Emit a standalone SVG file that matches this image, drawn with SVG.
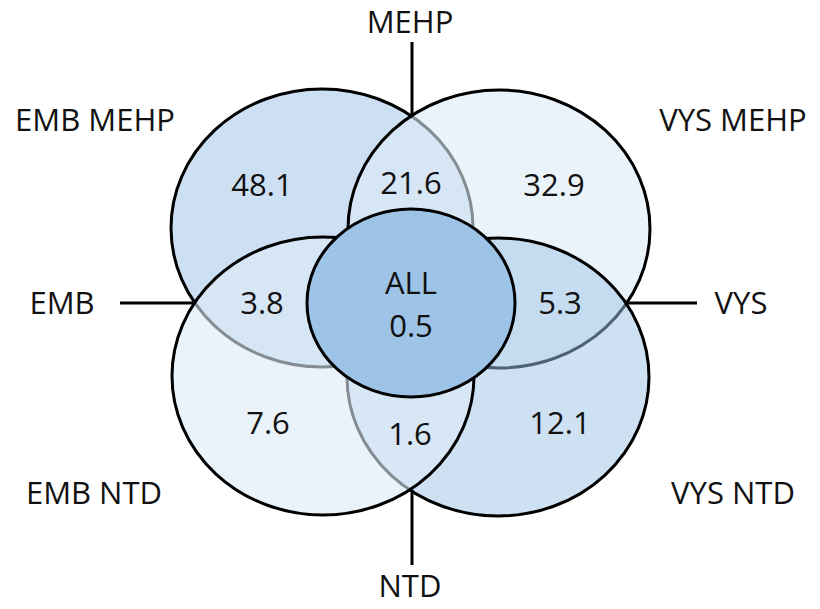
<svg xmlns="http://www.w3.org/2000/svg" width="820" height="609" viewBox="0 0 820 609">
  <style>
    .lbl { font-family: "Open Sans", "Liberation Sans", sans-serif; font-size: 31px; fill: #111; text-anchor: middle; }
    .solid { fill: #cddff2; stroke: #000; stroke-width: 3; }
    .pale { fill: #deebf7; fill-opacity: 0.6; stroke: #000; stroke-width: 3; }
    .tint { fill: #9dc3e6; fill-opacity: 0.5; stroke: #000; stroke-width: 3; }
    .core { fill: #9dc3e6; stroke: #000; stroke-width: 3; }
    .tick { stroke: #000; stroke-width: 3; fill: none; }
  </style>
  <rect width="820" height="609" fill="#fff"/>

  <!-- sets, stacked bottom to top -->
  <g id="set-emb-mehp">
    <ellipse class="solid" cx="322" cy="228" rx="151" ry="139"/>
  </g>
  <g id="set-vys-mehp">
    <ellipse class="pale" cx="499" cy="229" rx="151" ry="139"/>
  </g>
  <g id="set-vys-ntd">
    <ellipse class="tint" cx="498" cy="377" rx="151" ry="139"/>
  </g>
  <g id="set-emb-ntd">
    <ellipse class="pale" cx="323" cy="376" rx="151" ry="139"/>
  </g>

  <!-- shared core -->
  <g id="set-all">
    <ellipse class="core" cx="411" cy="303" rx="104" ry="94"/>
    <text class="lbl" x="411" y="294">ALL</text>
    <text class="lbl" x="411" y="337">0.5</text>
  </g>

  <!-- axis ticks -->
  <g id="connectors">
    <line class="tick" x1="412" y1="42" x2="412" y2="115"/>
    <line class="tick" x1="120" y1="303" x2="194" y2="303"/>
    <line class="tick" x1="626" y1="303" x2="697" y2="303"/>
    <line class="tick" x1="412" y1="490" x2="412" y2="565"/>
  </g>

  <!-- region values -->
  <g id="values">
    <text class="lbl" x="262" y="196">48.1</text>
    <text class="lbl" x="411" y="194">21.6</text>
    <text class="lbl" x="554" y="196">32.9</text>
    <text class="lbl" x="262" y="314">3.8</text>
    <text class="lbl" x="560" y="314">5.3</text>
    <text class="lbl" x="268" y="434">7.6</text>
    <text class="lbl" x="410" y="445">1.6</text>
    <text class="lbl" x="560" y="434">12.1</text>
  </g>

  <!-- outer labels -->
  <g id="labels">
    <text class="lbl" x="410" y="33">MEHP</text>
    <text class="lbl" x="95" y="131">EMB MEHP</text>
    <text class="lbl" x="733" y="131">VYS MEHP</text>
    <text class="lbl" x="62" y="314">EMB</text>
    <text class="lbl" x="741" y="314">VYS</text>
    <text class="lbl" x="94" y="504">EMB NTD</text>
    <text class="lbl" x="733" y="504">VYS NTD</text>
    <text class="lbl" x="410" y="597">NTD</text>
  </g>
</svg>
